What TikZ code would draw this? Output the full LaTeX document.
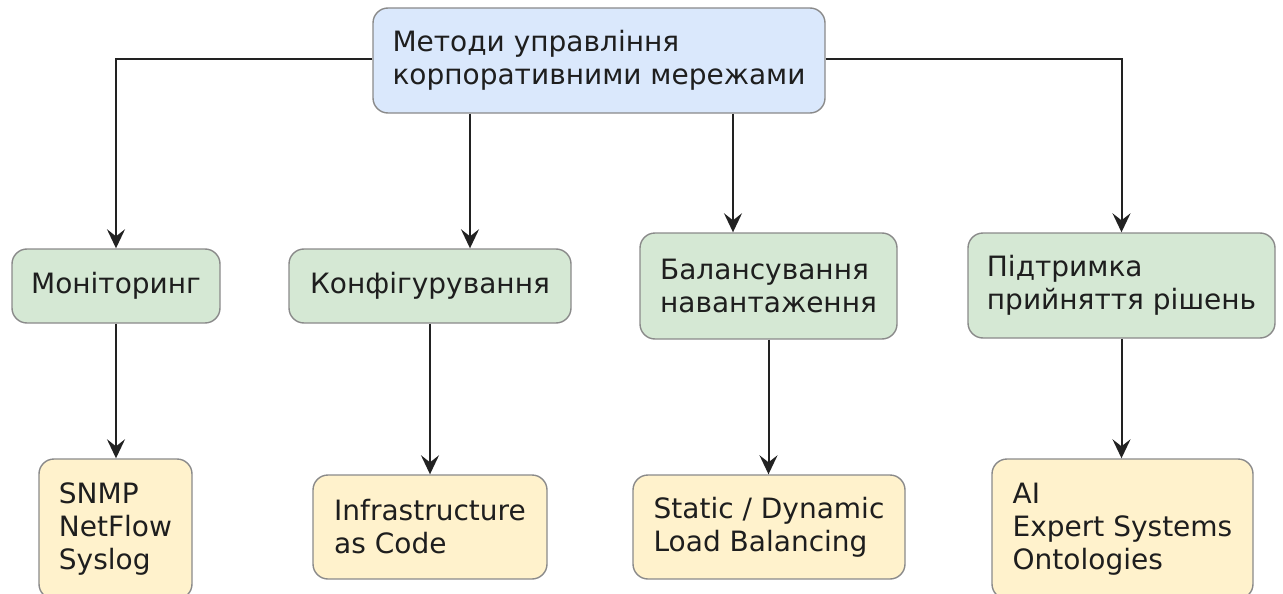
\documentclass[tikz,border=0pt]{standalone}
\usepackage{fontspec}
\setmainfont{DejaVu Sans}
\usetikzlibrary{arrows.meta}
\definecolor{txt}{HTML}{1E1E1E}
\definecolor{bord}{HTML}{8A8A8A}
\definecolor{topfill}{HTML}{DAE8FC}
\definecolor{midfill}{HTML}{D5E8D4}
\definecolor{lowfill}{HTML}{FFF2CC}
\definecolor{edge}{HTML}{222222}
\tikzset{
  box/.style={draw=bord, line width=1.4pt, rounded corners=15pt, text=txt,
    align=left, inner sep=2pt,
    font=\fontsize{28}{33}\selectfont},
  topbox/.style={box, fill=topfill},
  midbox/.style={box, fill=midfill},
  lowbox/.style={box, fill=lowfill},
  arr/.style={draw=edge, line width=2pt,
    -{Stealth[length=19pt, width=18pt, inset=7pt]}}
}
\begin{document}
\begin{tikzpicture}[x=1pt, y=-1pt]
\useasboundingbox (0,0) rectangle (1283,594);
\clip (0,0) rectangle (1283,594);
\node[topbox, minimum width=452pt, minimum height=105pt] (top) at (599,60.5)
  {Методи управління\\корпоративними мережами};
\node[midbox, minimum width=208pt, minimum height=74pt] (mon) at (116,286) {Моніторинг};
\node[midbox, minimum width=282pt, minimum height=74pt] (conf) at (430,286) {Конфігурування};
\node[midbox, minimum width=257pt, minimum height=106pt] (bal) at (768.5,286)
  {Балансування\\навантаження};
\node[midbox, minimum width=307pt, minimum height=105pt] (pid) at (1121.5,285.5)
  {Підтримка\\прийняття рішень};
\node[lowbox, minimum width=153pt, minimum height=140pt] (snmp) at (115.5,529)
  {SNMP\\NetFlow\\Syslog};
\node[lowbox, minimum width=234pt, minimum height=104pt] (infra) at (430,527)
  {Infrastructure\\as Code};
\node[lowbox, minimum width=272pt, minimum height=104pt] (stat) at (769,527)
  {Static / Dynamic\\Load Balancing};
\node[lowbox, minimum width=261pt, minimum height=140pt] (ai) at (1122.5,529)
  {AI\\Expert Systems\\Ontologies};
\draw[arr] ([yshift=1.5pt]top.west) -| (mon.north);
\draw[arr] ([yshift=1.5pt]top.east) -| (pid.north);
\draw[arr] ([xshift=40pt]conf.north |- top.south) -- ([xshift=40pt]conf.north);
\draw[arr] ([xshift=-35.5pt]bal.north |- top.south) -- ([xshift=-35.5pt]bal.north);
\draw[arr] (mon.south) -- (mon.south |- snmp.north);
\draw[arr] (conf.south) -- (infra.north);
\draw[arr] (bal.south) -- (bal.south |- stat.north);
\draw[arr] (pid.south) -- (pid.south |- ai.north);
\end{tikzpicture}
\end{document}
